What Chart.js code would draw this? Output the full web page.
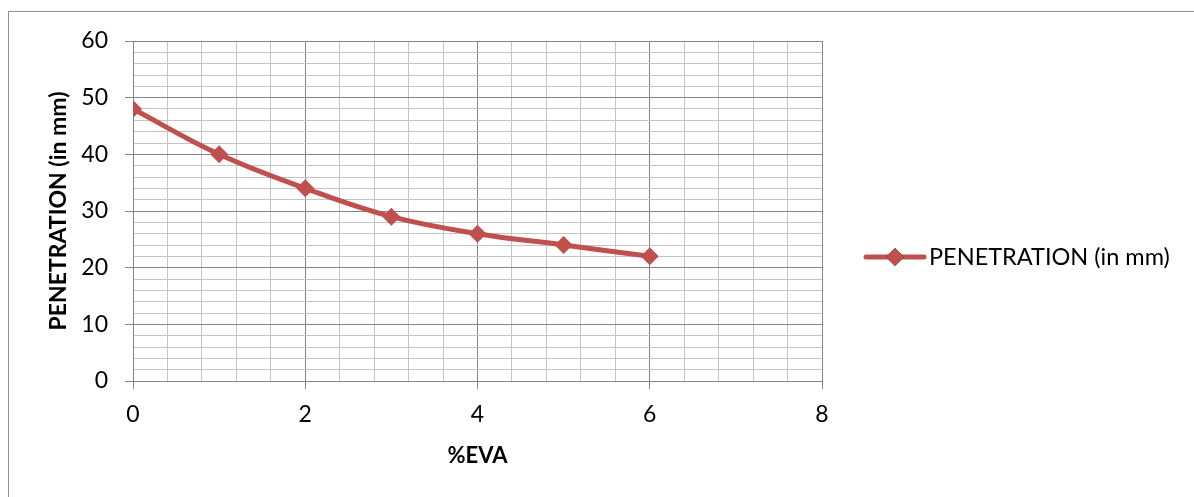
<!DOCTYPE html>
<html>
<head>
<meta charset="utf-8">
<script src="https://cdn.jsdelivr.net/npm/chart.js@4.4.0/dist/chart.umd.min.js"></script>
<style>
  html, body { margin: 0; padding: 0; background: #fff; overflow: hidden; }
  #frame { position: absolute; left: 8px; top: 11px; width: 1200px; height: 500px; border: 1px solid #8e8e8e; }
  #chart { position: absolute; left: 0; top: 0; }
</style>
</head>
<body>
<div id="frame"></div>
<canvas id="chart" width="1194" height="497"></canvas>
<script>
// Data
const evaPercent = [0, 1, 2, 3, 4, 5, 6];
const penetration = [48, 40, 34, 29, 26, 24, 22];
const seriesName = 'PENETRATION (in mm)';
const xTitle = '%EVA';
const yTitle = 'PENETRATION (in mm)';

// Style
const RED = '#C0504D';
const MAJOR_GRID = '#878787';
const MINOR_GRID = '#c4c4c4';
const FONT = 'Lato, "Open Sans", sans-serif';

const isMultiple = (v, step) => Math.abs(v / step - Math.round(v / step)) < 1e-6;

// legend drawn on the right like the office chart (line + diamond + text)
const sideLegend = {
  id: 'sideLegend',
  afterDraw(chart) {
    const ctx = chart.ctx;
    const y = 257;
    const x0 = 866, x1 = 924;
    ctx.save();
    ctx.strokeStyle = RED;
    ctx.lineWidth = 5;
    ctx.lineCap = 'round';
    ctx.beginPath();
    ctx.moveTo(x0, y);
    ctx.lineTo(x1, y);
    ctx.stroke();
    Chart.helpers.drawPoint(ctx, { pointStyle: 'rectRot', radius: 9, borderWidth: 0 }, (x0 + x1) / 2, y);
    ctx.fillStyle = RED;
    ctx.fill();
    ctx.fillStyle = '#000';
    ctx.font = '23.5px ' + FONT;
    ctx.textBaseline = 'middle';
    ctx.fillText(chart.data.datasets[0].label, 929, y);
    ctx.restore();
  }
};

const renderChart = () => {
  const ctx = document.getElementById('chart');
  new Chart(ctx, {
    type: 'line',
    data: {
      datasets: [{
        label: seriesName,
        data: evaPercent.map((x, i) => ({ x: x, y: penetration[i] })),
        borderColor: RED,
        backgroundColor: RED,
        borderWidth: 5,
        tension: 0.4,
        pointStyle: 'rectRot',
        pointRadius: 9,
        pointHoverRadius: 9,
        pointBorderWidth: 0,
        pointBackgroundColor: RED
      }]
    },
    options: {
      responsive: false,
      animation: false,
      layout: { padding: { top: 41, right: 372, left: 0, bottom: 0 } },
      plugins: {
        legend: { display: false },
        tooltip: { enabled: false }
      },
      scales: {
        x: {
          type: 'linear',
          min: 0,
          max: 8,
          afterFit: (s) => { s.height = 116; },
          ticks: {
            stepSize: 0.4,
            autoSkip: false,
            maxRotation: 0,
            padding: 12,
            color: '#000',
            font: { family: FONT, size: 23 },
            callback: (v) => isMultiple(v, 2) ? String(Math.round(v)) : ''
          },
          grid: {
            color: (c) => c.tick && isMultiple(c.tick.value, 2) ? MAJOR_GRID : MINOR_GRID,
            tickColor: (c) => c.tick && isMultiple(c.tick.value, 2) ? MAJOR_GRID : 'rgba(0,0,0,0)',
            tickLength: 8,
            lineWidth: 1
          },
          border: { color: MAJOR_GRID },
          title: {
            display: true,
            text: xTitle,
            color: '#000',
            font: { family: FONT, size: 22, weight: 'bold' },
            padding: { top: 0, bottom: 28 }
          }
        },
        y: {
          min: 0,
          max: 60,
          afterFit: (s) => { s.width = 133; },
          ticks: {
            stepSize: 2,
            autoSkip: false,
            padding: 17,
            color: '#000',
            font: { family: FONT, size: 23 },
            callback: (v) => isMultiple(v, 10) ? String(v) : ''
          },
          grid: {
            color: (c) => c.tick && isMultiple(c.tick.value, 10) ? MAJOR_GRID : MINOR_GRID,
            tickColor: (c) => c.tick && isMultiple(c.tick.value, 10) ? MAJOR_GRID : 'rgba(0,0,0,0)',
            tickLength: 8,
            lineWidth: 1
          },
          border: { color: MAJOR_GRID },
          title: {
            display: true,
            text: yTitle,
            color: '#000',
            font: { family: FONT, size: 23, weight: 'bold' },
            padding: { top: 45, bottom: 0 }
          }
        }
      }
    },
    plugins: [sideLegend]
  });
};

// Main
renderChart();
</script>
</body>
</html>
